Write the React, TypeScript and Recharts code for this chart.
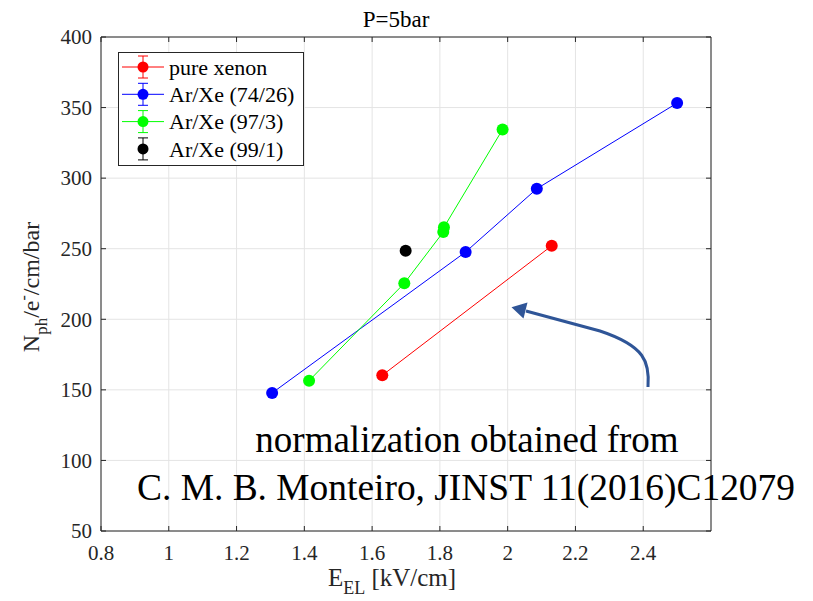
import React from 'react';
import { LineChart, Line, XAxis, YAxis, CartesianGrid, Legend } from 'recharts';

const xTicks = [0.8, 1, 1.2, 1.4, 1.6, 1.8, 2, 2.2, 2.4];
const yTicks = [50, 100, 150, 200, 250, 300, 350, 400];

const pureXenonE = [1.63, 2.13];
const pureXenonN = [160.3, 252.1];
const ar74E = [1.305, 1.876, 2.086, 2.5];
const ar74N = [147.8, 247.7, 292.5, 353.2];
const ar97E = [1.414, 1.695, 1.81, 1.812, 1.985];
const ar97N = [156.5, 225.5, 261.8, 265.2, 334.5];
const ar99E = [1.699];
const ar99N = [248.6];

const seriesNames = ['pure xenon', 'Ar/Xe (74/26)', 'Ar/Xe (97/3)', 'Ar/Xe (99/1)'];
const seriesColors = ['#ff0000', '#0000ff', '#00ff00', '#000000'];

const FONT = '"Liberation Serif", "Times New Roman", serif';
const AX = '#262626';

const toPts = (xs: number[], ys: number[]) => xs.map((x, i) => ({ x, y: ys[i] }));

const series = [
  { name: seriesNames[0], color: seriesColors[0], data: toPts(pureXenonE, pureXenonN), line: true },
  { name: seriesNames[1], color: seriesColors[1], data: toPts(ar74E, ar74N), line: true },
  { name: seriesNames[2], color: seriesColors[2], data: toPts(ar97E, ar97N), line: true },
  { name: seriesNames[3], color: seriesColors[3], data: toPts(ar99E, ar99N), line: false },
];

const BottomTick = (p: any) => (
  <g>
    <line x1={p.x} x2={p.x} y1={p.y} y2={p.y - 5} stroke={AX} />
    <text x={p.x} y={p.y + 29} textAnchor="middle" fontSize={21} fontFamily={FONT} fill={AX}>
      {p.payload.value}
    </text>
  </g>
);
const TopTick = (p: any) => (
  <line x1={p.x} x2={p.x} y1={p.y} y2={p.y + 5} stroke={AX} />
);
const LeftTick = (p: any) => (
  <g>
    <line x1={p.x} x2={p.x + 5} y1={p.y} y2={p.y} stroke={AX} />
    <text x={p.x - 9} y={p.y} dy="0.35em" textAnchor="end" fontSize={21} fontFamily={FONT} fill={AX}>
      {p.payload.value}
    </text>
  </g>
);
const RightTick = (p: any) => (
  <line x1={p.x} x2={p.x - 5} y1={p.y} y2={p.y} stroke={AX} />
);

const LegendBox = () => (
  <svg width={187} height={115} style={{ display: 'block' }}>
    <rect x={0.5} y={0.5} width={185} height={113} fill="#fff" stroke={AX} strokeWidth={1} />
    {series.map((s, i) => {
      const cy = 15 + i * 27.3;
      return (
        <g key={i}>
          {s.line && <line x1={4} x2={46} y1={cy} y2={cy} stroke={s.color} />}
          <line x1={25} x2={25} y1={cy - 11} y2={cy + 11} stroke={s.color} />
          <line x1={20} x2={30} y1={cy - 11} y2={cy - 11} stroke={s.color} />
          <line x1={20} x2={30} y1={cy + 11} y2={cy + 11} stroke={s.color} />
          <circle cx={25} cy={cy} r={5.5} fill={s.color} />
          <text x={51} y={cy} dy="0.35em" fontSize={22} fontFamily={FONT} fill="#000">
            {s.name}
          </text>
        </g>
      );
    })}
  </svg>
);

export default function App() {
  return (
    <div style={{ position: 'absolute', left: 0, top: 0, width: 813, height: 601, background: '#fff' }}>
      <LineChart
        width={813}
        height={601}
        margin={{ top: 27, right: 92, bottom: 40, left: 61 }}
      >
        <CartesianGrid stroke="#e4e4e4" strokeWidth={1} />
        <XAxis
          xAxisId={0}
          type="number"
          dataKey="x"
          domain={[0.8, 2.6]}
          ticks={xTicks}
          allowDataOverflow
          interval={0}
          height={30}
          tickSize={0}
          tickMargin={0}
          tickLine={false}
          axisLine={{ stroke: AX }}
          tick={BottomTick}
        />
        <XAxis
          xAxisId="top"
          orientation="top"
          type="number"
          dataKey="x"
          domain={[0.8, 2.6]}
          ticks={xTicks}
          allowDataOverflow
          interval={0}
          height={10}
          tickSize={0}
          tickMargin={0}
          tickLine={false}
          axisLine={{ stroke: AX }}
          tick={TopTick}
        />
        <YAxis
          yAxisId={0}
          type="number"
          dataKey="y"
          domain={[50, 400]}
          ticks={yTicks}
          allowDataOverflow
          interval={0}
          width={40}
          tickSize={0}
          tickMargin={0}
          tickLine={false}
          axisLine={{ stroke: AX }}
          tick={LeftTick}
        />
        <YAxis
          yAxisId="right"
          orientation="right"
          type="number"
          dataKey="y"
          domain={[50, 400]}
          ticks={yTicks}
          allowDataOverflow
          interval={0}
          width={10}
          tickSize={0}
          tickMargin={0}
          tickLine={false}
          axisLine={{ stroke: AX }}
          tick={RightTick}
        />
        <Legend
          layout="horizontal"
          verticalAlign="middle"
          align="center"
          content={LegendBox}
          wrapperStyle={{ position: 'absolute', left: 118, top: 52, width: 187, height: 115 }}
        />
        {series.map((s) => (
          <Line
            key={s.name}
            name={s.name}
            data={s.data}
            dataKey="y"
            xAxisId={0}
            yAxisId={0}
            type="linear"
            stroke={s.line ? s.color : 'none'}
            strokeWidth={1}
            dot={{ r: 6, fill: s.color, stroke: 'none' }}
            activeDot={false}
            isAnimationActive={false}
          />
        ))}
      </LineChart>
      <svg
        width={813}
        height={601}
        style={{ position: 'absolute', left: 0, top: 0, pointerEvents: 'none' }}
      >
        <text x={396} y={27} textAnchor="middle" fontSize={23} fontFamily={FONT} fill="#000">
          P=5bar
        </text>
        <text x={392} y={586} textAnchor="middle" fontSize={25} fontFamily={FONT} fill={AX}>
          E<tspan dy={8} fontSize={18}>EL</tspan>
          <tspan dy={-8}> [kV/cm]</tspan>
        </text>
        <text
          transform="rotate(-90 39 287)"
          x={39}
          y={287}
          textAnchor="middle"
          fontSize={24}
          fontFamily={FONT}
          fill={AX}
        >
          N<tspan dy={8} fontSize={17}>ph</tspan>
          <tspan dy={-8}>/e</tspan>
          <tspan dy={-10} fontSize={16}>-</tspan>
          <tspan dy={10}>/cm/bar</tspan>
        </text>
        <path
          d="M 648 387 C 650 362, 645 346, 600 331 L 526 311"
          fill="none"
          stroke="#2F5597"
          strokeWidth={3}
        />
        <polygon points="511.5,307.3 527.5,302.5 523.5,318.5" fill="#2F5597" />
        <text x={467} y={452} textAnchor="middle" fontSize={37} fontFamily={FONT} fill="#000">
          normalization obtained from
        </text>
        <text
          x={466}
          y={500}
          textAnchor="middle"
          fontSize={37}
          fontFamily={FONT}
          fill="#000"
          textLength={658}
          lengthAdjust="spacingAndGlyphs"
        >
          C. M. B. Monteiro, JINST 11(2016)C12079
        </text>
      </svg>
    </div>
  );
}
